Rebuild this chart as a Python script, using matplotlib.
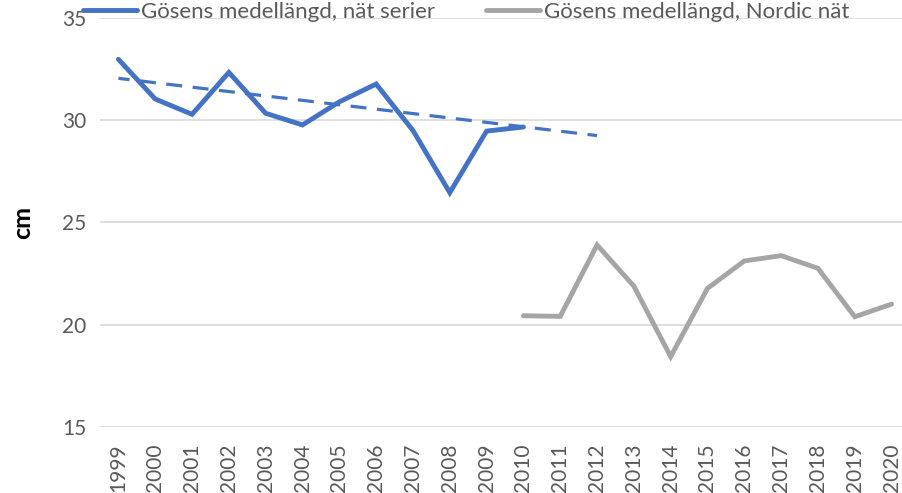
import matplotlib.pyplot as plt
import numpy as np

# data
years = [str(y) for y in range(1999, 2021)]
nat_serier = [32.98, 31.04, 30.29, 32.34, 30.34, 29.77, 30.9, 31.77, 29.5, 26.46, 29.47, 29.67]
nordic_nat = [20.44, 20.41, 23.9, 21.89, 18.44, 21.78, 23.12, 23.38, 22.76, 20.39, 21.01]
# dashed trend line of the first series (1999 -> 2012), as drawn in the chart
trend_years = ['1999', '2012']
trend_vals = [32.05, 29.25]
label_serier = 'Gösens medellängd, nät serier'
label_nordic = 'Gösens medellängd, Nordic nät'

plt.rcParams['font.family'] = ['Lato', 'DejaVu Sans']

fig = plt.figure(figsize=(9.02, 4.93), dpi=100)
# plot area runs a little past the right edge, like the cropped original
ax = fig.add_axes([100 / 902, 1 - 427 / 493, 810 / 902, (427 - 18) / 493])

x = np.arange(len(years))
x_serier = x[:len(nat_serier)]
x_nordic = x[len(years) - len(nordic_nat):]
x_trend = [years.index(y) for y in trend_years]

blue = '#4472C4'
grey = '#A5A5A5'

ax.plot(x_serier, nat_serier, color=blue, lw=3.5, solid_capstyle='round',
        solid_joinstyle='miter', label=label_serier, zorder=3)
ax.plot(x_nordic, nordic_nat, color=grey, lw=3.5, solid_capstyle='round',
        solid_joinstyle='miter', label=label_nordic, zorder=3)
ax.plot(x_trend, trend_vals, color=blue, lw=2.3, ls=(1.5, (5, 3.3)), zorder=2)

ax.set_xlim(-0.5, len(years) - 0.5)
ax.set_ylim(15, 35)
ax.set_yticks([15, 20, 25, 30, 35])
ax.set_xticks(x)
ax.set_xticklabels(years, rotation=90)
ax.grid(axis='y', color='#d9d9d9', lw=1.2)
ax.set_axisbelow(True)
for s in ax.spines.values():
    s.set_visible(False)
ax.tick_params(length=0, labelsize=15, colors='#595959')
ax.tick_params(axis='y', pad=10)
ax.tick_params(axis='x', pad=12)

ax.set_ylabel('cm', fontsize=18, fontweight='bold', color='black', labelpad=20)

ax.legend(loc='center left', bbox_to_anchor=(-17 / 810, 1 + 6 / 409), ncol=2, frameon=False,
          fontsize=16, labelcolor='#595959', handlelength=2.45, handletextpad=0.15,
          columnspacing=2.3, borderaxespad=0, borderpad=0)

fig.savefig('out.png', dpi=100)
